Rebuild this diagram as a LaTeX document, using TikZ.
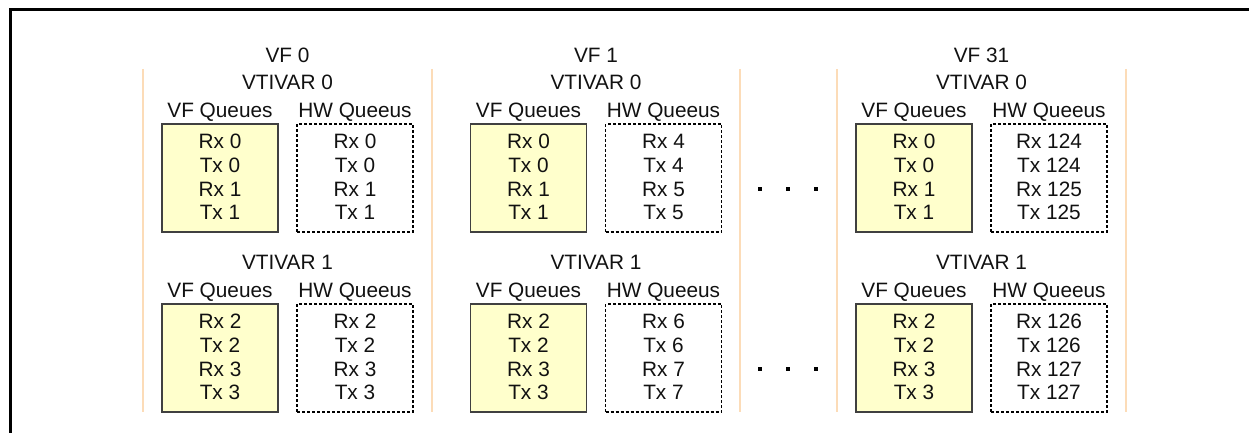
\documentclass[tikz,border=0pt]{standalone}
\usepackage{fontspec}
\setmainfont{Liberation Sans}
\definecolor{vffill}{HTML}{FFFFCC}
\definecolor{vfborder}{HTML}{404040}
\definecolor{sepcol}{HTML}{FCDCB8}
\definecolor{txt}{HTML}{111111}
\begin{document}
\begin{tikzpicture}[x=0.5pt,y=-0.5pt,
  lbl/.style={font=\fontsize{10.4}{12}\selectfont, text=txt, inner sep=0pt,
    text height=7.45pt, text depth=0pt, anchor=center},
  vfbox/.style={draw=vfborder, fill=vffill, line width=0.6pt,
    minimum width=58pt, minimum height=54pt, inner sep=0pt},
  hwbox/.style={draw=black, dash pattern=on 1.5pt off 1pt, line width=0.6pt,
    minimum width=58pt, minimum height=54pt, inner sep=0pt},
  sepline/.style={draw=sepcol, line width=1pt},
  dotmark/.style={fill=black, minimum size=2pt, inner sep=0pt}]
\useasboundingbox (0,0) rectangle (1249,433);
% outer frame (only top and left edges visible)
\draw[line width=1.5pt, line join=miter] (10.5,433) -- (10.5,9.5) -- (1249,9.5);
% separators
\foreach \sx in {143,432,740,837,1126}
  \draw[sepline] (\sx,69) -- (\sx,412);
% columns
\foreach \cx/\n/\b in {287.5/0/0, 596/1/4, 981.5/31/124} {
  \node[lbl] (vf\n) at (\cx,55) {VF \n};
  \foreach \half/\dy in {0/0,1/180} {
    \pgfmathtruncatemacro\qa{2*\half}
    \pgfmathtruncatemacro\qb{2*\half+1}
    \pgfmathtruncatemacro\ha{\b+2*\half}
    \pgfmathtruncatemacro\hb{\b+2*\half+1}
    \node[lbl] (vt\n-\half) at (\cx,82.5+\dy) {VTIVAR \half};
    \node[lbl] (vfq\n-\half) at (\cx-67.5,110+\dy) {VF Queues};
    \node[lbl] (hwq\n-\half) at (\cx+67.5,110+\dy) {HW Queeus};
    \node[vfbox] (vfb\n-\half) at (\cx-67.5,178+\dy) {};
    \node[hwbox] (hwb\n-\half) at (\cx+67.5,178+\dy) {};
    \node[lbl] (vr\n-\half a) at (\cx-67.5,141.5+\dy) {Rx \qa};
    \node[lbl] (vt\n-\half a) at (\cx-67.5,165.1+\dy) {Tx \qa};
    \node[lbl] (vr\n-\half b) at (\cx-67.5,188.7+\dy) {Rx \qb};
    \node[lbl] (vt\n-\half b) at (\cx-67.5,212.3+\dy) {Tx \qb};
    \node[lbl] (hr\n-\half a) at (\cx+67.5,141.5+\dy) {Rx \ha};
    \node[lbl] (ht\n-\half a) at (\cx+67.5,165.1+\dy) {Tx \ha};
    \node[lbl] (hr\n-\half b) at (\cx+67.5,188.7+\dy) {Rx \hb};
    \node[lbl] (ht\n-\half b) at (\cx+67.5,212.3+\dy) {Tx \hb};
  }
}
% ellipsis dots
\foreach \dx [count=\k] in {760,788,816} {
  \node[dotmark] (dt\k) at (\dx,189) {};
  \node[dotmark] (db\k) at (\dx,369) {};
}
\end{tikzpicture}
\end{document}
